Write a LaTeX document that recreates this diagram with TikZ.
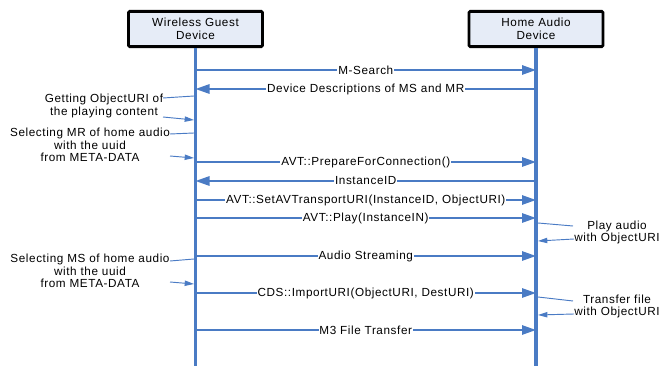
\documentclass[tikz,border=0pt]{standalone}
\usepackage{fontspec}
\setmainfont[LetterSpace=5]{Liberation Sans}
\usetikzlibrary{arrows.meta}
\definecolor{seqblue}{HTML}{4A7BC4}
\definecolor{boxfill}{HTML}{E6ECF7}
\begin{document}
\begin{tikzpicture}[x=0.75pt,y=-0.75pt]
		\tikzset{dev/.style={draw=black, line width=2.2pt, fill=boxfill, rounded corners=1pt, minimum width=100.5pt, minimum height=26.5pt, align=center, inner sep=1pt, font=\fontsize{8.8}{9.6}\selectfont}};
		\tikzset{life/.style={draw=seqblue, line width=2.3pt}};
		\tikzset{msg/.style={draw=seqblue, line width=1.4pt, -{Triangle[length=10.5pt, width=7pt]}}};
		\tikzset{lbl/.style={fill=white, inner sep=0.6pt, font=\fontsize{8.8}{9.4}\selectfont}};
		\tikzset{note/.style={align=center, font=\fontsize{8.8}{9.4}\selectfont}};
		\tikzset{tie/.style={draw=seqblue, line width=0.7pt}};
		\tikzset{tiearr/.style={draw=seqblue, line width=0.7pt, -{Triangle[length=7pt, width=4pt]}}};

		\useasboundingbox (0,0) rectangle (661,366);

		\node[dev] (wgd) at (195.5,29) {Wireless Guest\\Device};
		\node[dev] (had) at (536,29) {Home Audio\\Device};
		\coordinate (bottom) at (0,366);

		\node[note] (n1) at (104,106) {Getting ObjectURI of\\the playing content};
		\node[note] (n2) at (90,145) {Selecting MR of home audio\\with the uuid\\from META-DATA};
		\node[note] (n3) at (617,232.5) {Play audio\\with ObjectURI};
		\node[note] (n4) at (90,271) {Selecting MS of home audio\\with the uuid\\from META-DATA};
		\node[note] (n5) at (617,306.5) {Transfer file\\with ObjectURI};

		% message heights
		\coordinate (m1) at (0,70);
		\coordinate (m2) at (0,89);
		\coordinate (m3) at (0,162);
		\coordinate (m4) at (0,181);
		\coordinate (m5) at (0,200);
		\coordinate (m6) at (0,218);
		\coordinate (m7) at (0,256);
		\coordinate (m8) at (0,293);
		\coordinate (m9) at (0,330);

		\draw[msg] (wgd |- m1) -- node[lbl] {M-Search} (had |- m1);
		\draw[msg] (had |- m2) -- node[lbl] {Device Descriptions of MS and MR} (wgd |- m2);
		\draw[msg] (wgd |- m3) -- node[lbl] {AVT::PrepareForConnection()} (had |- m3);
		\draw[msg] (had |- m4) -- node[lbl] {InstanceID} (wgd |- m4);
		\draw[msg] (wgd |- m5) -- node[lbl] {AVT::SetAVTransportURI(InstanceID, ObjectURI)} (had |- m5);
		\draw[msg] (wgd |- m6) -- node[lbl] {AVT::Play(InstanceIN)} (had |- m6);
		\draw[msg] (wgd |- m7) -- node[lbl] {Audio Streaming} (had |- m7);
		\draw[msg] (wgd |- m8) -- node[lbl] {CDS::ImportURI(ObjectURI, DestURI)} (had |- m8);
		\draw[msg] (wgd |- m9) -- node[lbl] {M3 File Transfer} (had |- m9);

		% note ties
		\coordinate (t1a) at (163,98);
		\coordinate (t1b) at (194,96);
		\coordinate (t1c) at (163,117);
		\coordinate (t1d) at (194,120);
		\coordinate (t2a) at (170,134);
		\coordinate (t2b) at (194,133);
		\coordinate (t2c) at (170,156);
		\coordinate (t2d) at (194,158);
		\coordinate (t3a) at (538,223);
		\coordinate (t3b) at (573,226);
		\coordinate (t3c) at (574,239);
		\coordinate (t3d) at (538,241);
		\coordinate (t4a) at (170,261);
		\coordinate (t4b) at (194,259);
		\coordinate (t4c) at (170,282);
		\coordinate (t4d) at (194,284);
		\coordinate (t5a) at (538,297);
		\coordinate (t5b) at (573,301);
		\coordinate (t5c) at (574,314);
		\coordinate (t5d) at (538,315);

		\draw[tie] (t1a) -- (t1b);
		\draw[tiearr] (t1c) -- (t1d);
		\draw[tie] (t2a) -- (t2b);
		\draw[tiearr] (t2c) -- (t2d);
		\draw[tie] (t3a) -- (t3b);
		\draw[tiearr] (t3c) -- (t3d);
		\draw[tie] (t4a) -- (t4b);
		\draw[tiearr] (t4c) -- (t4d);
		\draw[tie] (t5a) -- (t5b);
		\draw[tiearr] (t5c) -- (t5d);

		\draw[life] (wgd.south) -- (wgd |- bottom);
		\draw[life] (had.south) -- (had |- bottom);
	\end{tikzpicture}
\end{document}
